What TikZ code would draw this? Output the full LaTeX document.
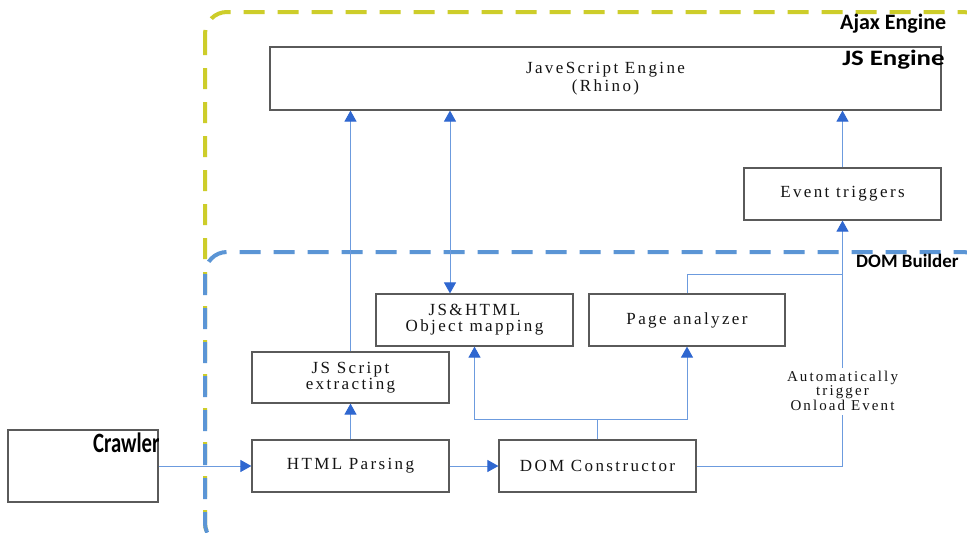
\documentclass[tikz,border=0pt]{standalone}
\usepackage{fontspec}
\setmainfont{Liberation Serif}
\newfontfamily\boxfont[LetterSpace=14]{Liberation Serif}
\newfontfamily\tagfont{Carlito}
\usetikzlibrary{arrows.meta}

\definecolor{boxline}{HTML}{5A5A5A}
\definecolor{linkblue}{HTML}{6C9BDE}
\definecolor{headblue}{HTML}{2F67D0}
\definecolor{ajaxyellow}{HTML}{CDCD2A}
\definecolor{dombblue}{HTML}{5B95D5}
\definecolor{txt}{HTML}{141414}

\tikzset{
  stage/.style={draw=boxline, line width=1.2pt, fill=white, inner sep=0pt,
    text=txt, align=center,
    font=\boxfont\fontsize{17}{16}\selectfont},
  link/.style={draw=linkblue, line width=1pt},
  tip/.style={-{Triangle[width=12pt,length=11pt,fill=headblue,color=headblue]}},
  bothtips/.style={{Triangle[width=12pt,length=11pt,fill=headblue,color=headblue]}-{Triangle[width=12pt,length=11pt,fill=headblue,color=headblue]}},
  region/.style={line width=4pt, rounded corners=22pt, dash pattern=on 21pt off 13pt},
  tag/.style={font=\tagfont\bfseries, text=black, inner sep=0pt, anchor=base west},
}

\begin{document}
\begin{tikzpicture}[x=1pt,y=-1pt]
\useasboundingbox (0,0) rectangle (967,533);
\fill[white] (0,0) rectangle (967,533);

% enclosing regions
\draw[region, draw=ajaxyellow] (205,12) rectangle (985,545);
\draw[region, draw=dombblue] (205,252) rectangle (985,545);

% processing stages
\node[stage, minimum width=671pt, minimum height=63pt] (jse) at (605.5,78.5) {JaveScript Engine\\[2pt](Rhino)};
\node[stage, minimum width=197pt, minimum height=52pt] (evt) at (842.5,194) {Event triggers};
\node[stage, minimum width=197pt, minimum height=52pt] (objmap) at (474.5,320) {JS\&HTML\\Object mapping};
\node[stage, minimum width=196pt, minimum height=52pt] (page) at (687,320) {Page analyzer};
\node[stage, minimum width=197pt, minimum height=51pt] (jsx) at (350.5,377.5) {JS Script\\extracting};
\node[stage, minimum width=197pt, minimum height=52pt] (html) at (350.5,466) {HTML Parsing};
\node[stage, minimum width=197pt, minimum height=52pt] (dom) at (597.5,466) {DOM Constructor};
\node[stage, minimum width=150pt, minimum height=72pt] (crawler) at (83,466) {};

% region titles
\node[tag, font=\tagfont\bfseries\fontsize{22}{22}\selectfont] (ajaxtag) at (840,29) {Ajax Engine};
\node[tag, font=\tagfont\bfseries\fontsize{22}{22}\selectfont, xscale=1.22] (jstag) at (842,65) {JS Engine};
\node[tag, font=\tagfont\bfseries\fontsize{19}{19}\selectfont] (domtag) at (856,267) {DOM Builder};
\node[tag, font=\tagfont\bfseries\fontsize{28}{28}\selectfont, xscale=0.74] (crawltag) at (93,452) {Crawler};

% trigger label on the onload path
\node[inner sep=0pt, align=center, text=txt,
      font=\boxfont\fontsize{15}{12.5}\selectfont] (trig) at (842.5,391) {Automatically\\trigger\\Onload Event};

% helper points
\coordinate (mapx) at (450,0);
\coordinate (split) at (597.5,419);
\coordinate (join) at (842.5,274);

% connectors
\draw[link, tip] (crawler.east) -- (html.west);
\draw[link, tip] (html.east) -- (dom.west);
\draw[link, tip] (html.north) -- (jsx.south);
\draw[link, tip] (jsx.north) -- (jsx.north |- jse.south);
\draw[link, bothtips] (mapx |- jse.south) -- (mapx |- objmap.north);
\draw[link] (dom.north) -- (split);
\draw[link, tip] (split) -| (objmap.south);
\draw[link, tip] (split) -| (page.south);
\draw[link] (page.north) |- (join);
\draw[link] (dom.east) -| ([yshift=-4pt]trig.south);
\draw[link, tip] ([yshift=3pt]trig.north) -- (evt.south);
\draw[link, tip] (evt.north) -- (evt.north |- jse.south);
\end{tikzpicture}
\end{document}
